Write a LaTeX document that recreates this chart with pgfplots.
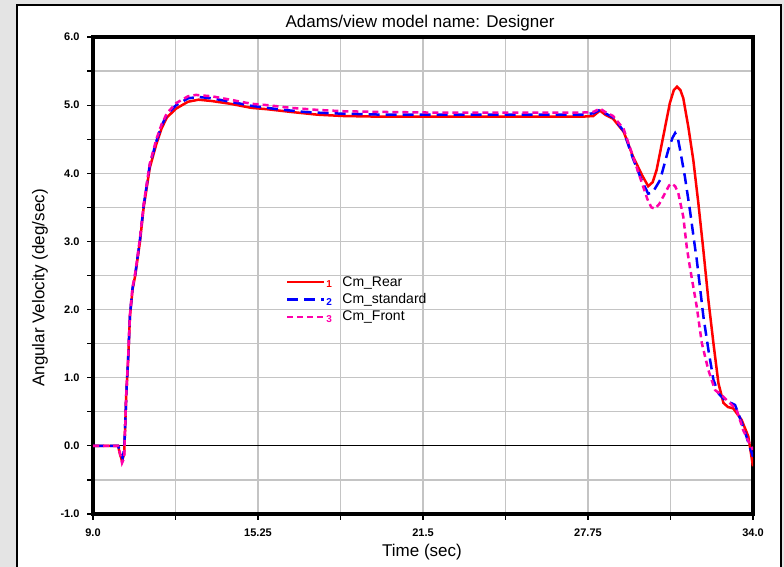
\documentclass[border=0pt]{standalone}
\usepackage{pgfplots}
\pgfplotsset{compat=1.18}
\usepackage{fontspec}
\setmainfont{Liberation Sans}

\definecolor{cmred}{RGB}{255,0,0}
\definecolor{cmblue}{RGB}{0,0,255}
\definecolor{cmpink}{RGB}{255,0,170}
\definecolor{gridgray}{RGB}{196,196,196}
\definecolor{bggray}{RGB}{228,228,228}

% legend sample: the line, then the curve number in its colour
\pgfplotsset{
  numleg/.style 2 args={legend image code/.code={
    \draw[##1] (0pt,0pt) -- (37pt,0pt);
    \node[anchor=west,inner sep=0pt,text=#1,font=\fontsize{10}{10}\selectfont\bfseries] at (38pt,-3pt) {#2};
    \path (52pt,0pt);}},
}

\begin{document}
\begin{tikzpicture}
\useasboundingbox (0pt,0pt) rectangle (784pt,567pt);
\fill[bggray] (0pt,0pt) rectangle (784pt,567pt);
\draw[fill=white, line width=1.5pt] (17pt,-10pt) rectangle (781pt,562pt);
\node[font=\fontsize{17}{20}\selectfont] at (420pt,544pt) {Adams/view model name: Designer};
\node[font=\fontsize{17}{20}\selectfont] at (422pt,15pt) {Time (sec)};
\node[font=\fontsize{17}{20}\selectfont, rotate=90] at (40pt,279pt) {Angular Velocity (deg/sec)};

\begin{axis}[
  at={(93pt,53pt)}, anchor=south west,
  scale only axis, width=660pt, height=477pt,
  xmin=9, xmax=34, ymin=-1, ymax=6,
  xtick={9,15.25,21.5,27.75,34},
  xticklabels={9.0,15.25,21.5,27.75,34.0},
  minor xtick={12.125,18.375,24.625,30.875},
  ytick={-1,0,...,6},
  minor ytick={-0.5,0.5,...,5.5},
  yticklabel={\pgfmathprintnumber[fixed,fixed zerofill,precision=1]{\tick}},
  /pgf/number format/assume math mode=true,
  xtick pos=lower, ytick pos=left,
  tick align=outside,
  major tick length=6pt, minor tick length=6pt,
  tick style={black, line width=1.2pt},
  grid=both,
  major grid style={gridgray, line width=1.2pt},
  minor grid style={gridgray, line width=1.2pt},
  axis line style={line width=3.5pt},
  axis background/.style={fill=white},
  ticklabel style={font=\fontsize{11}{12}\selectfont\bfseries},
  yticklabel style={xshift=-4pt},
  xticklabel style={yshift=-5pt},
  legend style={at={(0.292,0.503)}, anchor=north west, draw=none, fill=none,
    font=\fontsize{14}{16}\selectfont, inner sep=0pt, row sep=2pt},
  legend cell align=left,
]
\draw[black, line width=1.2pt] (axis cs:9,0) -- (axis cs:34,0);

% Cm_Rear
\addplot[cmred, line width=2.5pt, numleg={cmred}{1}] coordinates {
(9.0,0) (9.95,0) (10.02,-0.12) (10.1,-0.22) (10.18,-0.12) (10.22,0.3)
(10.26,0.75) (10.33,1.25) (10.4,1.9) (10.5,2.3) (10.6,2.5) (10.78,3.0)
(10.92,3.5) (11.15,4.08) (11.4,4.43) (11.6,4.66) (11.8,4.82) (12.15,4.95)
(12.6,5.05) (13.0,5.08) (13.5,5.06) (14.2,5.02) (15.0,4.96) (15.6,4.94)
(16.5,4.9) (17.5,4.86) (18.5,4.84) (20,4.83) (22,4.83) (24,4.83) (26,4.83)
(27.5,4.83) (27.95,4.84) (28.2,4.92) (28.4,4.86) (28.7,4.80) (29.1,4.61)
(29.45,4.25) (29.8,3.97) (30.03,3.81) (30.2,3.87) (30.35,4.05) (30.6,4.54)
(30.85,5.03) (31.0,5.22) (31.12,5.27) (31.25,5.22) (31.36,5.10) (31.55,4.68)
(31.74,4.19) (31.93,3.56) (32.12,2.87) (32.31,2.14) (32.5,1.51) (32.69,0.92)
(32.88,0.63) (33.05,0.57) (33.25,0.55) (33.57,0.38) (33.82,0.14) (34.0,-0.30)
};
\addlegendentry{Cm\_Rear}

% Cm_standard
\addplot[cmblue, line width=2.5pt, dash pattern=on 11pt off 6pt, numleg={cmblue}{2}] coordinates {
(9.0,0) (9.95,0) (10.05,-0.1) (10.12,-0.18) (10.18,-0.05) (10.22,0.3)
(10.26,0.75) (10.33,1.27) (10.4,1.92) (10.5,2.32) (10.6,2.52) (10.78,3.03)
(10.92,3.53) (11.15,4.12) (11.4,4.47) (11.6,4.7) (11.8,4.86) (12.15,5.0)
(12.6,5.1) (13.0,5.12) (13.5,5.1) (14.2,5.05) (15.0,4.99) (16.0,4.94)
(17.0,4.9) (18.0,4.88) (20,4.86) (22,4.86) (24,4.86) (26,4.86) (27.5,4.86)
(27.95,4.88) (28.2,4.93) (28.4,4.88) (28.7,4.82) (29.1,4.62) (29.45,4.22)
(29.8,3.88) (30.03,3.70) (30.2,3.72) (30.48,3.90) (30.79,4.34) (30.95,4.52)
(31.05,4.59) (31.15,4.52) (31.24,4.34) (31.42,3.95) (31.61,3.46) (31.80,2.92)
(31.87,2.73) (32.12,1.90) (32.31,1.41) (32.5,0.97) (32.69,0.77) (32.94,0.67)
(33.32,0.60) (33.63,0.28) (34.0,-0.16)
};
\addlegendentry{Cm\_standard}

% Cm_Front
\addplot[cmpink, line width=2.5pt, dash pattern=on 6pt off 4pt, numleg={cmpink}{3}] coordinates {
(9.0,0) (9.95,0) (10.05,-0.15) (10.1,-0.25) (10.18,-0.18) (10.22,0.3)
(10.26,0.77) (10.33,1.28) (10.4,1.93) (10.5,2.33) (10.6,2.54) (10.78,3.05)
(10.92,3.55) (11.15,4.14) (11.4,4.5) (11.6,4.72) (11.8,4.88) (12.15,5.03)
(12.6,5.13) (12.9,5.15) (13.5,5.13) (14.2,5.08) (15.0,5.02) (15.6,5.0)
(16.5,4.96) (17.5,4.93) (18.5,4.91) (20,4.90) (22,4.89) (24,4.89) (26,4.89)
(27.5,4.89) (27.95,4.9) (28.2,4.95) (28.4,4.9) (28.7,4.84) (29.1,4.65)
(29.45,4.25) (29.8,3.85) (30.0,3.62) (30.15,3.5) (30.29,3.48) (30.45,3.55)
(30.67,3.71) (30.82,3.82) (30.92,3.85) (31.05,3.81) (31.17,3.71) (31.36,3.36)
(31.49,2.92) (31.61,2.62) (31.87,2.04) (32.06,1.51) (32.31,1.11) (32.56,0.82)
(32.88,0.72) (33.38,0.53) (33.63,0.23) (33.85,0.05) (34.0,-0.06)
};
\addlegendentry{Cm\_Front}
\end{axis}
\end{tikzpicture}
\end{document}
